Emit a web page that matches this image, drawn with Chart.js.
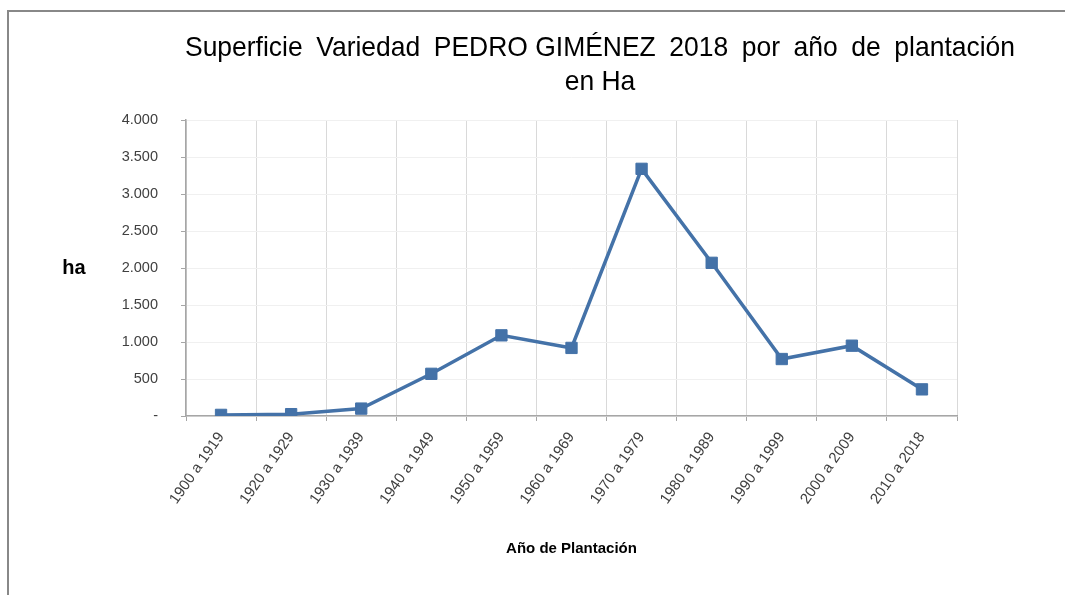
<!DOCTYPE html>
<html>
<head>
<meta charset="utf-8">
<script src="https://cdn.jsdelivr.net/npm/chart.js@4.4.1/dist/chart.umd.min.js"></script>
<style>
  html, body { margin: 0; padding: 0; background: #ffffff; }
  #wrap { width: 1065px; height: 595px; position: relative; }
</style>
</head>
<body>
<div id="wrap"><canvas id="c" width="1065" height="595"></canvas></div>
<script>
// ---- data ----
const categories = ['1900 a 1919', '1920 a 1929', '1930 a 1939', '1940 a 1949', '1950 a 1959',
  '1960 a 1969', '1970 a 1979', '1980 a 1989', '1990 a 1999', '2000 a 2009', '2010 a 2018'];
const superficieHa = [15, 25, 100, 570, 1090, 920, 3340, 2070, 770, 950, 360];
const yTickValues = [0, 500, 1000, 1500, 2000, 2500, 3000, 3500, 4000];
const titleWords = ['Superficie', 'Variedad', 'PEDRO GIMÉNEZ', '2018', 'por', 'año', 'de', 'plantación'];
const titleLine2 = 'en Ha';
const yTitle = 'ha';
const xTitle = 'Año de Plantación';

function fmtEs(v) {
  if (v === 0) return '-';
  return String(v).replace(/\B(?=(\d{3})+(?!\d))/g, '.');
}

const framePlugin = {
  id: 'frame',
  beforeDraw(chart) {
    const ctx = chart.ctx;
    ctx.save();
    ctx.fillStyle = '#ffffff';
    ctx.fillRect(0, 0, chart.width, chart.height);
    ctx.strokeStyle = '#888888';
    ctx.lineWidth = 2;
    ctx.beginPath();
    ctx.moveTo(7, 11);
    ctx.lineTo(chart.width, 11);
    ctx.moveTo(8, 10);
    ctx.lineTo(8, chart.height);
    ctx.stroke();
    ctx.restore();
  },
  afterDraw(chart) {
    const ctx = chart.ctx;
    ctx.save();
    // Title (justified line 1, centered line 2), slightly condensed like the original
    ctx.fillStyle = '#000000';
    ctx.font = '28px "Liberation Sans", Arial, sans-serif';
    ctx.textBaseline = 'alphabetic';
    ctx.textAlign = 'left';
    const sx = 0.945;
    const cx = 600, halfW = 415;
    const widths = titleWords.map(w => ctx.measureText(w).width * sx);
    const total = widths.reduce((a, b) => a + b, 0);
    const gap = (2 * halfW - total) / (titleWords.length - 1);
    let x = cx - halfW;
    titleWords.forEach((w, i) => {
      ctx.save();
      ctx.translate(x, 56);
      ctx.scale(sx, 1);
      ctx.fillText(w, 0, 0);
      ctx.restore();
      x += widths[i] + gap;
    });
    ctx.save();
    ctx.translate(cx, 90);
    ctx.scale(sx, 1);
    ctx.textAlign = 'center';
    ctx.fillText(titleLine2, 0, 0);
    ctx.restore();
    // y-axis title (horizontal)
    ctx.font = 'bold 20px "Liberation Sans", Arial, sans-serif';
    ctx.textAlign = 'center';
    ctx.textBaseline = 'middle';
    ctx.fillText(yTitle, 74, 268);
    ctx.restore();
  }
};

const ctx = document.getElementById('c').getContext('2d');
new Chart(ctx, {
  type: 'line',
  data: {
    labels: categories,
    datasets: [{
      data: superficieHa,
      borderColor: '#4472A8',
      backgroundColor: '#4472A8',
      borderWidth: 3.5,
      pointStyle: 'rect',
      pointRadius: 8,
      pointBorderWidth: 1,
      pointBackgroundColor: '#4472A8',
      pointBorderColor: '#4472A8',
      tension: 0,
      fill: false
    }]
  },
  options: {
    responsive: false,
    animation: false,
    devicePixelRatio: 1,
    layout: { padding: { top: 120, right: 108, bottom: 33, left: 100 } },
    plugins: { legend: { display: false }, title: { display: false }, tooltip: { enabled: false } },
    scales: {
      x: {
        type: 'category',
        offset: true,
        grid: { offset: true, color: '#D9D9D9', lineWidth: 1, tickLength: 5, tickColor: '#A6A6A6', drawOnChartArea: true },
        border: { color: '#A6A6A6', width: 1.5 },
        ticks: {
          autoSkip: false, minRotation: 55, maxRotation: 55, padding: 8,
          color: '#404040',
          font: { family: '"Liberation Sans", Arial, sans-serif', size: 15 }
        },
        title: {
          display: true, text: xTitle, color: '#000000',
          font: { family: '"Liberation Sans", Arial, sans-serif', size: 15, weight: 'bold' },
          padding: { top: 4, bottom: 4 }
        },
        afterFit(scale) { scale.height = 146; }
      },
      y: {
        min: 0, max: 4000,
        afterBuildTicks(scale) { scale.ticks = yTickValues.map(v => ({ value: v })); },
        grid: { color: '#F0F0F0', lineWidth: 1, tickLength: 5, tickColor: '#A6A6A6' },
        border: { color: '#A6A6A6', width: 1.5 },
        ticks: {
          padding: 23, color: '#404040',
          font: { family: '"Liberation Sans", Arial, sans-serif', size: 14.5 },
          callback: (v) => fmtEs(v)
        },
        afterFit(scale) { scale.width = 86; }
      }
    }
  },
  plugins: [framePlugin]
});
</script>
</body>
</html>
